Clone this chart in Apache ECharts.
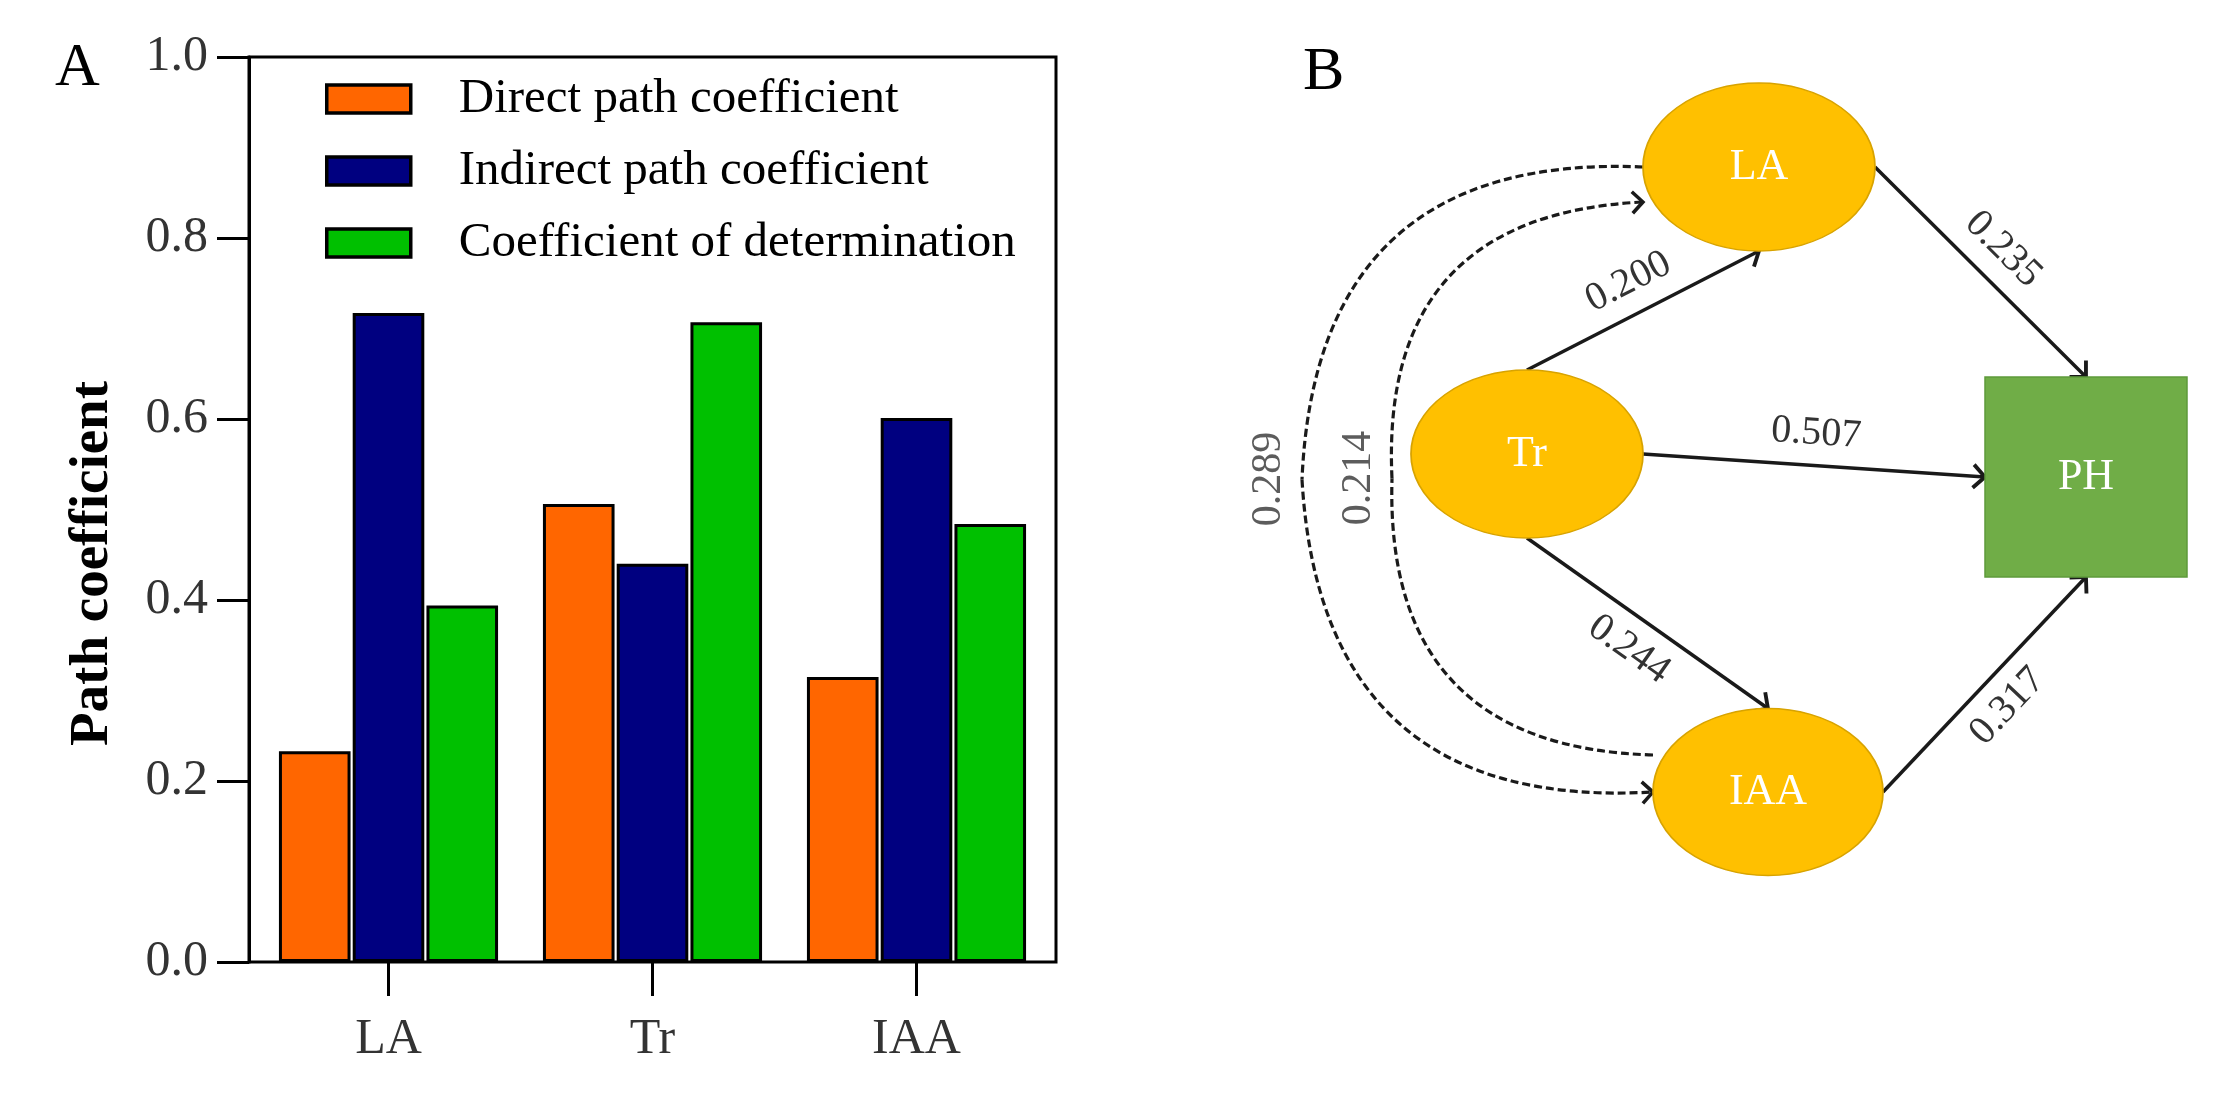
<!DOCTYPE html>
<html><head><meta charset="utf-8">
<script src="https://cdn.jsdelivr.net/npm/echarts@6/dist/echarts.min.js"></script>
<style>html,body{margin:0;padding:0;background:#fff}#c{width:2215px;height:1094px}</style>
</head><body><div id="c"></div>
<script>
// ---------------- data ----------------
const categories = ['LA', 'Tr', 'IAA'];
const seriesNames = ['Direct path coefficient', 'Indirect path coefficient', 'Coefficient of determination'];
const directPath = [0.233, 0.506, 0.315];
const indirectPath = [0.717, 0.440, 0.601];
const determination = [0.394, 0.707, 0.484];

const diagramNodes = ['LA', 'Tr', 'IAA', 'PH'];
const pathEdges = [['Tr', 'LA', 0.200], ['LA', 'PH', 0.235], ['Tr', 'PH', 0.507], ['Tr', 'IAA', 0.244], ['IAA', 'PH', 0.317]];
const correlationEdges = [['LA', 'IAA', 0.289], ['IAA', 'LA', 0.214]];

// ---------------- layout / style ----------------
const FONT = '"Liberation Serif", "Times New Roman", serif';
const barColors = ['#FF6600', '#000080', '#00C000'];
const nodeLayout = {
  LA:  {x: 509, y: 167, w: 232, h: 168, shape: 'circle', color: '#FFC000', border: '#D8A300'},
  Tr:  {x: 277, y: 454, w: 232, h: 168, shape: 'circle', color: '#FFC000', border: '#D8A300'},
  IAA: {x: 518, y: 792, w: 230, h: 167, shape: 'circle', color: '#FFC000', border: '#D8A300'},
  PH:  {x: 836, y: 477, w: 202, h: 200, shape: 'rect', color: '#70AD47', border: '#5E9A3B'}
};
const edgeLayout = {
  'Tr-LA':  {from: 'top', to: 'bottom', label: 'middle'},
  'LA-PH':  {from: 'right', to: 'top', label: 'middle'},
  'Tr-PH':  {from: 'right', to: 'left', label: 'middle'},
  'Tr-IAA': {from: 'bottom', to: 'top', label: 'insideMiddleBottom'},
  'IAA-PH': {from: 'right', to: 'bottom', label: 'insideMiddleBottom'}
};
const corrLayout = {
  'LA-IAA': {fromDy: 0, toDy: 0, bulgeX: 52},
  'IAA-LA': {fromDy: -37, toDy: 35, bulgeX: 142}
};
const ARROW = 'path://M10,0L10.05,0L10,0.05Z M10,8L20,18L17.9,20.1L10,12.2L2.1,20.1L0,18Z';

function anchorPoint(name, side, dy) {
  const n = nodeLayout[name];
  dy = dy || 0;
  if (side === 'top') return [n.x, n.y - n.h / 2];
  if (side === 'bottom') return [n.x, n.y + n.h / 2];
  if (side === 'left') return [n.x - n.w / 2, n.y + dy];
  return [n.x + n.w / 2, n.y + dy];
}

// nodes
const nodeData = diagramNodes.map(function (name) {
  const n = nodeLayout[name];
  return {name: name, value: [n.x, n.y], symbol: n.shape, symbolSize: [n.w, n.h],
    itemStyle: {color: n.color, borderColor: n.border, borderWidth: 1.5, opacity: 1}};
});
// straight paths
const pathData = pathEdges.map(function (e) {
  const L = edgeLayout[e[0] + '-' + e[1]];
  return {coords: [anchorPoint(e[0], L.from), anchorPoint(e[1], L.to)], value: e[2],
    label: {position: L.label}};
});
// correlation curves, drawn as two quarter arcs each
const corrLead = [], corrTail = [], corrLabels = [];
correlationEdges.forEach(function (e) {
  const L = corrLayout[e[0] + '-' + e[1]];
  const p1 = anchorPoint(e[0], 'left', L.fromDy);
  const p2 = anchorPoint(e[1], 'left', L.toDy);
  const mid = [L.bulgeX, (p1[1] + p2[1]) / 2];
  const c = p2[1] > p1[1] ? -0.5 : 0.5;
  corrLead.push({coords: [p1, mid], lineStyle: {curveness: c}});
  corrTail.push({coords: [mid, p2], lineStyle: {curveness: c}});
  corrLabels.push({value: mid, coef: e[2]});
});

const chart = echarts.init(document.getElementById('c'), null, {renderer: 'canvas'});
const labelFmt = function (p) { return (p.data.value).toFixed(3); };

chart.setOption({
  backgroundColor: '#ffffff',
  animation: false,
  title: [
    {text: 'A', left: 55, top: 38, padding: 0, textStyle: {fontSize: 62, fontWeight: 'normal', fontFamily: FONT, color: '#000'}},
    {text: 'B', left: 1303, top: 42, padding: 0, textStyle: {fontSize: 62, fontWeight: 'normal', fontFamily: FONT, color: '#000'}}
  ],
  legend: {
    data: seriesNames, orient: 'vertical', left: 325, top: 72, padding: 0,
    itemWidth: 84, itemHeight: 28, itemGap: 18, icon: 'rect', selectedMode: false,
    itemStyle: {borderColor: '#000', borderWidth: 3.5},
    textStyle: {fontSize: 49, lineHeight: 50, fontFamily: FONT, color: '#000', padding: [4, 0, 0, 43]}
  },
  grid: [
    {left: 249, top: 57, width: 807, height: 905, show: true, borderColor: '#000', borderWidth: 3, backgroundColor: 'transparent', outerBoundsMode: 'none', containLabel: false},
    {left: 256.5, top: 57, width: 792, height: 905, outerBoundsMode: 'none', containLabel: false},
    {left: 1250, top: 0, width: 965, height: 1094, outerBoundsMode: 'none', containLabel: false}
  ],
  xAxis: [
    {gridIndex: 0, type: 'value', min: 0, max: 1, show: false},
    {gridIndex: 1, type: 'category', data: categories,
      axisLine: {show: false},
      axisTick: {show: true, alignWithLabel: true, inside: false, length: 34, lineStyle: {color: '#000', width: 3}},
      axisLabel: {fontSize: 50, fontFamily: FONT, color: '#333', margin: 53},
      splitLine: {show: false}},
    {gridIndex: 2, type: 'value', min: 0, max: 965, show: false}
  ],
  yAxis: [
    {gridIndex: 0, type: 'value', min: 0, max: 1, interval: 0.2,
      axisLine: {show: true, lineStyle: {color: '#000', width: 3}},
      axisTick: {show: true, inside: false, length: 32, lineStyle: {color: '#000', width: 3}},
      axisLabel: {fontSize: 50, fontFamily: FONT, color: '#333', margin: 41, formatter: function (v) { return v.toFixed(1); }},
      splitLine: {show: false},
      name: 'Path coefficient', nameLocation: 'middle', nameGap: 129, nameRotate: 90,
      nameTextStyle: {fontSize: 55, fontWeight: 'bold', fontFamily: FONT, color: '#000', padding: [0, 108, 0, 0]}},
    {gridIndex: 1, type: 'value', min: 0, max: 1, show: false},
    {gridIndex: 2, type: 'value', min: 0, max: 1094, inverse: true, show: false}
  ],
  series: [
    {type: 'bar', name: seriesNames[0], xAxisIndex: 1, yAxisIndex: 1, data: directPath,
      itemStyle: {color: barColors[0], borderColor: '#000', borderWidth: 3}, barGap: '3%', barCategoryGap: '17%'},
    {type: 'bar', name: seriesNames[1], xAxisIndex: 1, yAxisIndex: 1, data: indirectPath,
      itemStyle: {color: barColors[1], borderColor: '#000', borderWidth: 3}, barGap: '3%', barCategoryGap: '17%'},
    {type: 'bar', name: seriesNames[2], xAxisIndex: 1, yAxisIndex: 1, data: determination,
      itemStyle: {color: barColors[2], borderColor: '#000', borderWidth: 3}, barGap: '3%', barCategoryGap: '17%'},
    {type: 'lines', name: 'paths', coordinateSystem: 'cartesian2d', xAxisIndex: 2, yAxisIndex: 2, z: 3,
      data: pathData, symbol: ['none', ARROW], symbolSize: 26,
      lineStyle: {color: '#1a1a1a', width: 3.5, opacity: 1, curveness: 0},
      label: {show: true, formatter: labelFmt, fontSize: 40, fontFamily: FONT, color: '#333', distance: 12}},
    {type: 'lines', name: 'corrLead', coordinateSystem: 'cartesian2d', xAxisIndex: 2, yAxisIndex: 2, z: 3,
      data: corrLead, symbol: ['none', 'none'],
      lineStyle: {color: '#1a1a1a', width: 3.2, opacity: 1, type: [8, 4]}},
    {type: 'lines', name: 'corrTail', coordinateSystem: 'cartesian2d', xAxisIndex: 2, yAxisIndex: 2, z: 3,
      data: corrTail, symbol: ['none', ARROW], symbolSize: 24,
      lineStyle: {color: '#1a1a1a', width: 3.2, opacity: 1, type: [8, 4]}},
    {type: 'scatter', name: 'corrLabels', xAxisIndex: 2, yAxisIndex: 2, z: 4, symbolSize: 1,
      itemStyle: {color: 'rgba(0,0,0,0)'}, data: corrLabels,
      label: {show: true, position: [-33, 0], rotate: 90, align: 'center', verticalAlign: 'middle',
        formatter: function (p) { return p.data.coef.toFixed(3); }, fontSize: 42, fontFamily: FONT, color: '#333'}},
    {type: 'scatter', name: 'nodes', xAxisIndex: 2, yAxisIndex: 2, z: 5, data: nodeData,
      itemStyle: {opacity: 1},
      label: {show: true, position: 'inside', formatter: '{b}', fontSize: 44, fontFamily: FONT, color: '#FFFFFF'}}
  ]
});
</script></body></html>
